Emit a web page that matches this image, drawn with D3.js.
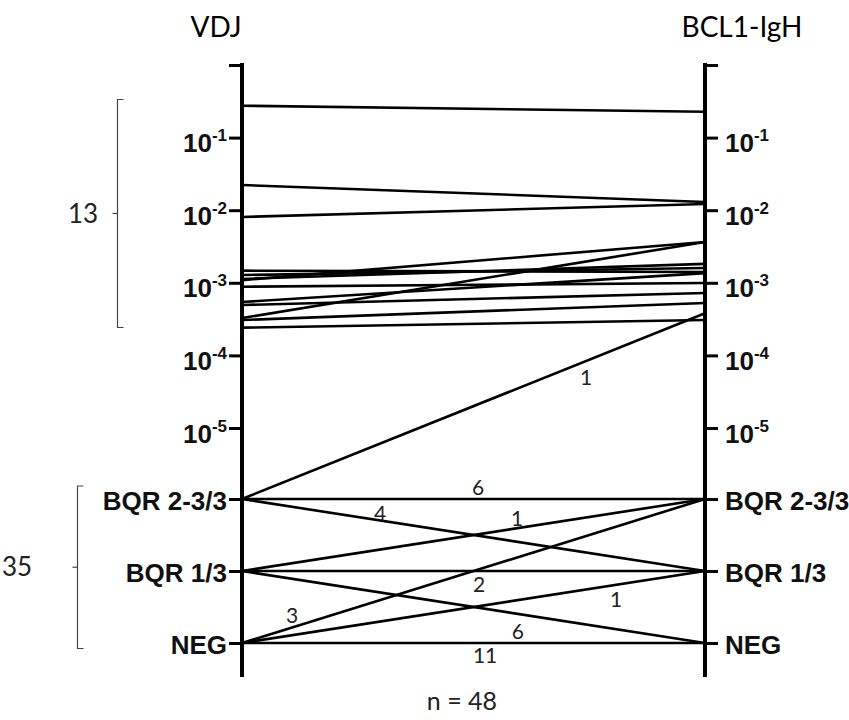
<!DOCTYPE html>
<html>
<head>
<meta charset="utf-8">
<script src="https://cdn.jsdelivr.net/npm/d3@7"></script>
<style>
  body { margin: 0; background: #fff; }
  svg { font-family: Lato, "Noto Sans", sans-serif; }
</style>
</head>
<body>
<div id="chart"></div>
<script>
// assay names (the two vertical axes)
var assays = ["VDJ", "BCL1-IgH"];

// log tick exponents, top one (10^0) has no label
var logTicks = [0, -1, -2, -3, -4, -5];
// below-quantitative categories
var categories = ["BQR 2-3/3", "BQR 1/3", "NEG"];

// 13 patients quantifiable by VDJ: value by VDJ, value by BCL1-IgH
var vdjQuant = [0.275, 0.0222, 0.00806, 0.00147, 0.00128, 0.00109, 0.00113, 0.000883, 0.000544, 0.000494, 0.000327, 0.000307, 0.000241];
var bclQuant = [0.227, 0.0130, 0.0122, 0.00141, 0.00160, 0.00365, 0.00182, 0.000994, 0.00136, 0.000724, 0.00365, 0.000527, 0.000307];

// 35 patients not quantifiable by VDJ: grouped transitions with counts
var fromVal = ["BQR 2-3/3", "BQR 2-3/3", "BQR 1/3", "BQR 1/3", "BQR 1/3", "NEG", "NEG", "NEG", "BQR 2-3/3"];
var toVal   = ["BQR 2-3/3", "BQR 1/3", "BQR 2-3/3", "BQR 1/3", "NEG", "BQR 2-3/3", "BQR 1/3", "NEG", 0.00038];
var counts  = [6, 4, 1, 2, 6, 3, 1, 11, 1];

var groupCounts = [13, 35];
var total = 48;

var width = 849, height = 720;
var svg = d3.select("#chart").append("svg").attr("width", width).attr("height", height);

// scales
var x = d3.scalePoint().domain(assays).range([242, 705]);
var yLog = d3.scaleLog().domain([1e-5, 1]).range([428, 65]);
var yCat = d3.scalePoint().domain(categories).range([499, 643]);

function yPos(v) {
    return typeof v === "string" ? yCat(v) : yLog(v);
}

// data lines - quantitative
svg.append("g").selectAll("line").data(vdjQuant).enter().append("line")
    .attr("x1", x("VDJ")).attr("x2", x("BCL1-IgH"))
    .attr("y1", function(d) { return yLog(d); })
    .attr("y2", function(d, i) { return yLog(bclQuant[i]); })
    .attr("stroke", "#000").attr("stroke-width", 2.6);

// data lines - categorical transitions
svg.append("g").selectAll("line").data(fromVal).enter().append("line")
    .attr("x1", x("VDJ")).attr("x2", x("BCL1-IgH"))
    .attr("y1", function(d) { return yPos(d); })
    .attr("y2", function(d, i) { return yPos(toVal[i]); })
    .attr("stroke", "#000").attr("stroke-width", 2.6);

// where to put each count label along its line (fraction, vertical shift)
var labelSpot = [[0.51, -11], [0.298, -7], [0.594, -10], [0.512, 14], [0.596, 18],
                 [0.108, -12], [0.808, 15], [0.525, 13], [0.743, 17]];

svg.append("g").selectAll("text").data(counts).enter().append("text")
    .attr("x", function(d, i) { return x("VDJ") + labelSpot[i][0] * (x("BCL1-IgH") - x("VDJ")); })
    .attr("y", function(d, i) {
        var y1 = yPos(fromVal[i]), y2 = yPos(toVal[i]);
        return y1 + labelSpot[i][0] * (y2 - y1) + labelSpot[i][1];
    })
    .attr("dy", "0.35em")
    .attr("text-anchor", "middle")
    .style("font-size", "21px").style("fill", "#222")
    .text(function(d) { return d; });

// axes
function powLabel(sel) {
    sel.selectAll(".tick text").each(function(d) {
        var t = d3.select(this);
        var e = Math.round(Math.log10(d));
        t.text(null).attr("dy", null).attr("y", 0);
        if (e === 0) return;
        t.append("tspan").attr("dy", "14").text("10");
        t.append("tspan").attr("dy", "-11").style("font-size", "17px").text(e);
    });
}

function drawAxis(name, side) {
    var xx = x(name);
    var g = svg.append("g").attr("transform", "translate(" + xx + ",0)");
    var axLog = (side === "left" ? d3.axisLeft(yLog) : d3.axisRight(yLog))
        .tickValues(logTicks.map(function(e) { return Math.pow(10, e); }))
        .tickSize(13).tickPadding(side === "left" ? 2 : 7);
    var axCat = (side === "left" ? d3.axisLeft(yCat) : d3.axisRight(yCat))
        .tickSize(13).tickPadding(side === "left" ? 2 : 7);

    var gl = g.append("g").call(axLog);
    var gc = g.append("g").call(axCat);
    [gl, gc].forEach(function(a) {
        a.select(".domain").remove();
        a.selectAll(".tick line").attr("stroke", "#000").attr("stroke-width", 3);
        a.selectAll(".tick text").style("font-size", "26px").style("font-weight", "bold")
            .attr("fill", "#111").attr("font-family", null);
    });
    gc.selectAll(".tick text").attr("dy", "0.4em");
    powLabel(gl);

    g.append("line").attr("x1", 0).attr("x2", 0).attr("y1", 63).attr("y2", 677)
        .attr("stroke", "#000").attr("stroke-width", 4);
}
drawAxis("VDJ", "left");
drawAxis("BCL1-IgH", "right");

// titles
svg.append("text").attr("x", 216).attr("y", 37).attr("text-anchor", "middle")
    .style("font-size", "28px").text(assays[0]);
svg.append("text").attr("x", 742).attr("y", 37).attr("text-anchor", "middle")
    .style("font-size", "28px").text(assays[1]);

// group brackets
function bracket(xb, y0, y1, label, lx) {
    var g = svg.append("g").attr("stroke", "#444").attr("stroke-width", 1.2).attr("fill", "none");
    g.append("path").attr("d", "M" + (xb + 6) + "," + y0 + "H" + xb + "V" + y1 + "H" + (xb + 6));
    var mid = (y0 + y1) / 2;
    g.append("line").attr("x1", xb - 5).attr("x2", xb).attr("y1", mid).attr("y2", mid);
    svg.append("text").attr("x", lx).attr("y", mid).attr("dy", "0.35em").attr("text-anchor", "middle")
        .style("font-size", "26px").style("fill", "#222").text(label);
}
bracket(117.5, 99.5, 327.5, groupCounts[0], 83);
bracket(77.5, 486, 648.5, groupCounts[1], 17);

svg.append("text").attr("x", 462).attr("y", 710).attr("text-anchor", "middle")
    .style("font-size", "25px").style("fill", "#222").text("n = " + total);
</script>
</body>
</html>
